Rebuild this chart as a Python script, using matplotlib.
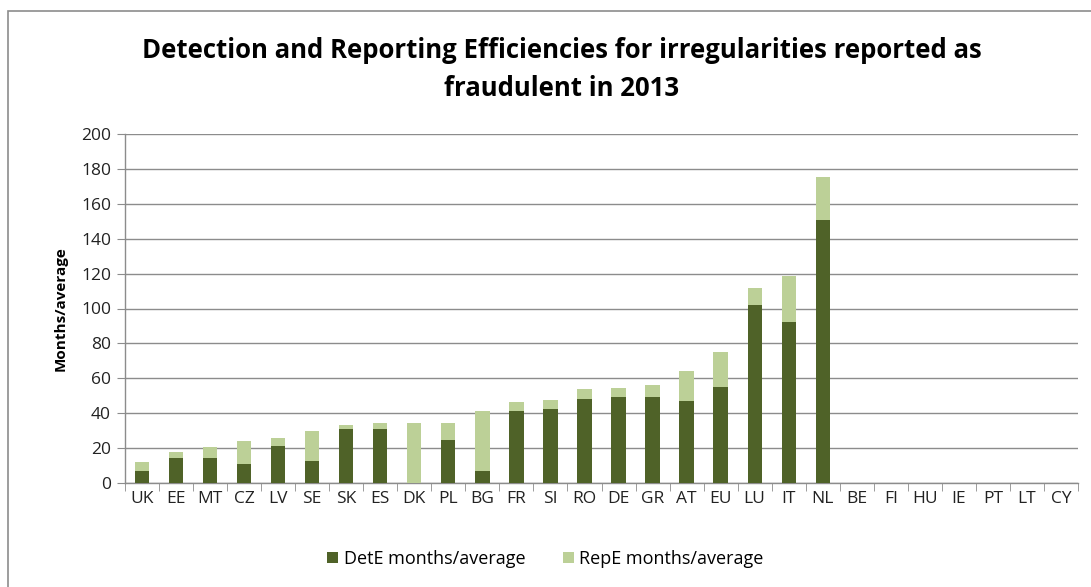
"""Detection and Reporting Efficiencies chart (2013)."""
import matplotlib
matplotlib.use("Agg")
import matplotlib.pyplot as plt
from matplotlib.patches import Rectangle
import numpy as np

countries = ["UK", "EE", "MT", "CZ", "LV", "SE", "SK", "ES", "DK", "PL", "BG",
             "FR", "SI", "RO", "DE", "GR", "AT", "EU", "LU", "IT", "NL",
             "BE", "FI", "HU", "IE", "PT", "LT", "CY"]
dete = [6.7, 14.5, 14.5, 10.7, 21.1, 12.6, 31.0, 31.0, 0.0, 24.4, 7.0,
        41.3, 42.5, 48.0, 49.2, 49.2, 46.9, 54.9, 101.9, 92.0, 150.7,
        0, 0, 0, 0, 0, 0, 0]
repe = [5.3, 3.2, 6.1, 13.1, 4.6, 17.3, 2.0, 3.3, 34.3, 9.9, 34.1,
        5.0, 5.0, 5.6, 5.0, 6.9, 17.2, 20.4, 9.9, 26.5, 24.5,
        0, 0, 0, 0, 0, 0, 0]

DARK = "#4F6228"
LIGHT = "#BCD097"
GRID = "#8C8C8C"

plt.rcParams["font.family"] = ["Open Sans", "DejaVu Sans"]

fig = plt.figure(figsize=(10.91, 5.87), dpi=100)
W, H = 1091, 587
left, right, top, bottom = 125, 1078, 134, 483
ax = fig.add_axes([left / W, 1 - bottom / H, (right - left) / W, (bottom - top) / H])

x = np.arange(len(countries))
ax.bar(x, dete, width=0.42, color=DARK, label="DetE months/average", zorder=3)
ax.bar(x, repe, width=0.42, bottom=dete, color=LIGHT, label="RepE months/average", zorder=3)

ax.set_xlim(-0.5, len(countries) - 0.5)
ax.set_ylim(0, 200)
ax.set_yticks(range(0, 201, 20))
ax.yaxis.grid(True, color=GRID, linewidth=1.0, zorder=0)
ax.set_axisbelow(True)

ax.set_xticks(x)
ax.set_xticklabels(countries, fontsize=12.5, color="#222222")
ax.set_xticks(np.arange(-0.5, len(countries), 1.0), minor=True)
ax.tick_params(axis="x", which="major", length=0, pad=6)
ax.tick_params(axis="x", which="minor", length=6, color=GRID, direction="out")
ax.tick_params(axis="y", length=6, color=GRID, labelsize=12.5, labelcolor="#222222", pad=4)

for side in ["top", "right"]:
    ax.spines[side].set_visible(False)
for side in ["left", "bottom"]:
    ax.spines[side].set_color(GRID)
    ax.spines[side].set_linewidth(1.0)

ax.set_ylabel("Months/average", fontsize=11, fontweight="bold", labelpad=10)

fig.text(0.515, 1 - 50 / H, "Detection and Reporting Efficiencies for irregularities reported as",
         ha="center", va="center", fontsize=18.5, fontweight="bold")
fig.text(0.515, 1 - 88 / H, "fraudulent in 2013",
         ha="center", va="center", fontsize=18.5, fontweight="bold")

fig.legend(loc="center", bbox_to_anchor=(0.5, 1 - 559 / H), ncol=2, frameon=False,
           fontsize=13, handlelength=0.6, handleheight=0.6, columnspacing=2.1,
           handletextpad=0.3)

# outer chart frame
fig.patches.append(Rectangle((8 / W, -0.05), 1.2, 1 - 11 / H + 0.05, transform=fig.transFigure,
                             fill=False, edgecolor="#8C8C8C", linewidth=1.2))

fig.savefig("out.png", dpi=100)
